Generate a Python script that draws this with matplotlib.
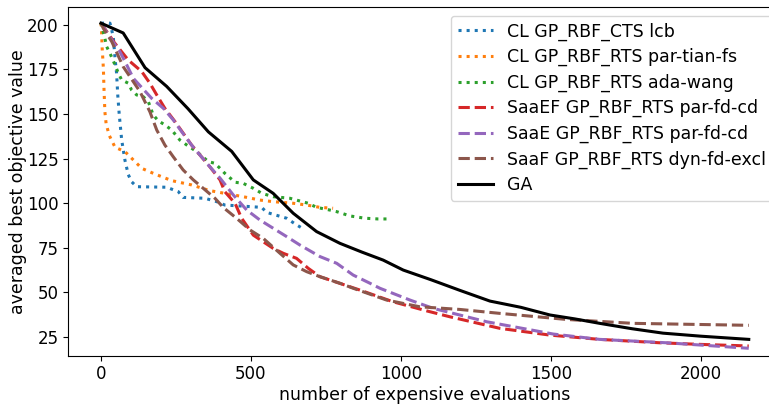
import matplotlib
matplotlib.use("Agg")
import matplotlib.pyplot as plt

cts_lcb_x = [0, 30, 41, 47, 52, 56, 61, 69, 80, 91, 102, 119, 219, 258, 274, 347, 386, 413, 463, 536, 552, 619, 650, 680]
cts_lcb_y = [201, 201, 193.5, 181, 173, 160.5, 149.5, 135.5, 124, 116, 112, 109.2, 108.9, 106.4, 103.2, 102.7, 100.8, 98.9, 98.4, 97.6, 94.8, 91.5, 88, 85]

tian_x = [0, 2, 4, 8, 10, 13, 17, 27, 47, 80, 108, 136, 180, 236, 302, 363, 441, 486, 530, 574, 641, 686, 730, 774]
tian_y = [201, 196.3, 187, 175.7, 164.4, 151.3, 144.8, 138.2, 131.3, 128.9, 124.2, 119.5, 116.3, 112.6, 110.2, 107, 104.6, 103.2, 101.7, 100.8, 99.9, 98.9, 97.6, 97.1]

wang_x = [0, 13, 19, 30, 47, 58, 69, 91, 102, 119, 141, 158, 174, 191, 213, 236, 263, 286, 319, 358, 380, 397, 413, 447, 474, 508, 536,
          574, 630, 691, 719, 763, 786, 830, 880, 924, 952]
wang_y = [201, 192.5, 187.8, 184.1, 177.5, 172.9, 169.1, 167.3, 163.5, 160.7, 159.7, 156.9, 149.5, 146.2, 143.9, 141, 135.4, 132.6, 128.9,
          123.3, 122.3, 119.5, 116.7, 111.7, 111.1, 108.3, 105.5, 103.6, 102.7, 99.9, 97.6, 96.1, 95.2, 92.8, 91.5, 91.1, 91.1]

saaef_x = [0, 45, 91, 136, 163, 186, 213, 247, 302, 330, 363, 397, 413, 447, 469, 508, 541, 574, 608, 652, 691, 730, 863, 974, 1086,
           1163, 1330, 1497, 1663, 1863, 1997, 2160]
saaef_y = [201, 190, 180.3, 173.8, 167.3, 160.7, 153.2, 145.7, 132.6, 127, 120.4, 113, 106.4, 99.9, 91.5, 82, 78.3, 74.6, 71.8, 69, 63.4,
           58.7, 51.2, 44.6, 39.5, 36.2, 29.7, 25.9, 23.5, 21.6, 20.7, 19.8]

saae_x = [0, 30, 63, 86, 108, 169, 208, 241, 269, 302, 330, 363, 397, 441, 486, 530, 574, 619, 663, 730, 786, 841, 897, 930, 1030,
          1108, 1286, 1508, 1663, 1886, 2160]
saae_y = [201, 193, 185, 177.5, 170, 158.8, 153.2, 146.7, 140.1, 132.6, 127, 120.4, 114, 104.6, 96.1, 90.5, 85.9, 81.2, 76.5, 70, 66.2,
          59.6, 55, 52.2, 45.6, 40.9, 33.4, 26.5, 23.5, 21.6, 18.5]

saaf_x = [0, 8, 36, 74, 130, 163, 186, 213, 241, 274, 308, 341, 380, 408, 452, 497, 541, 597, 641, 686, 730, 797, 841, 952, 1063,
          1197, 1330, 1552, 1774, 2160]
saaf_y = [201, 198, 190.6, 176.6, 162.6, 151.3, 141, 132.6, 126, 118.6, 113, 108.3, 102.7, 97.5, 91.5, 84.9, 80.2, 71.8, 65.3, 61.5,
          58.7, 55, 52.2, 45.6, 41.8, 40.3, 38.1, 34.7, 32.5, 31.4]

ga_x = [0, 74, 147, 219, 290, 358, 436, 508, 574, 641, 719, 797, 870, 941, 1008, 1100, 1197, 1297, 1400, 1497, 1580, 1663, 1770,
        1874, 2000, 2160]
ga_y = [201, 195.5, 176, 165.5, 153, 140, 129, 113, 105.5, 94.3, 84, 77.4, 72.5, 68, 62.4, 57, 51, 45, 41.5, 37.2, 35, 32.5, 29.5,
        27, 25.3, 23.5]

plt.rcParams['font.size'] = 12.5
plt.rcParams['xtick.labelsize'] = 12
plt.rcParams['ytick.labelsize'] = 12

fig = plt.figure(figsize=(7.69, 4.08), dpi=100)
ax = fig.add_axes([0.0888, 0.128, 0.927, 0.855])

LW = 2.2
ax.plot(cts_lcb_x, cts_lcb_y, ':', color='tab:blue', lw=LW, label='CL GP_RBF_CTS lcb')
ax.plot(tian_x, tian_y, ':', color='tab:orange', lw=LW, label='CL GP_RBF_RTS par-tian-fs')
ax.plot(wang_x, wang_y, ':', color='tab:green', lw=LW, label='CL GP_RBF_RTS ada-wang')
ax.plot(saaef_x, saaef_y, '--', color='tab:red', lw=LW, label='SaaEF GP_RBF_RTS par-fd-cd')
ax.plot(saae_x, saae_y, '--', color='tab:purple', lw=LW, label='SaaE GP_RBF_RTS par-fd-cd')
ax.plot(saaf_x, saaf_y, '--', color='tab:brown', lw=LW, label='SaaF GP_RBF_RTS dyn-fd-excl')
ax.plot(ga_x, ga_y, '-', color='black', lw=LW, label='GA')

ax.set_xlim(-109, 2268)
ax.set_ylim(14.3, 210.1)
ax.set_xticks([0, 500, 1000, 1500, 2000])
ax.set_yticks([25, 50, 75, 100, 125, 150, 175, 200])
ax.set_xlabel('number of expensive evaluations', labelpad=2)
ax.set_ylabel('averaged best objective value', labelpad=0)
ax.legend(loc='upper right', labelspacing=0.42)

fig.savefig('out.png', dpi=100)
